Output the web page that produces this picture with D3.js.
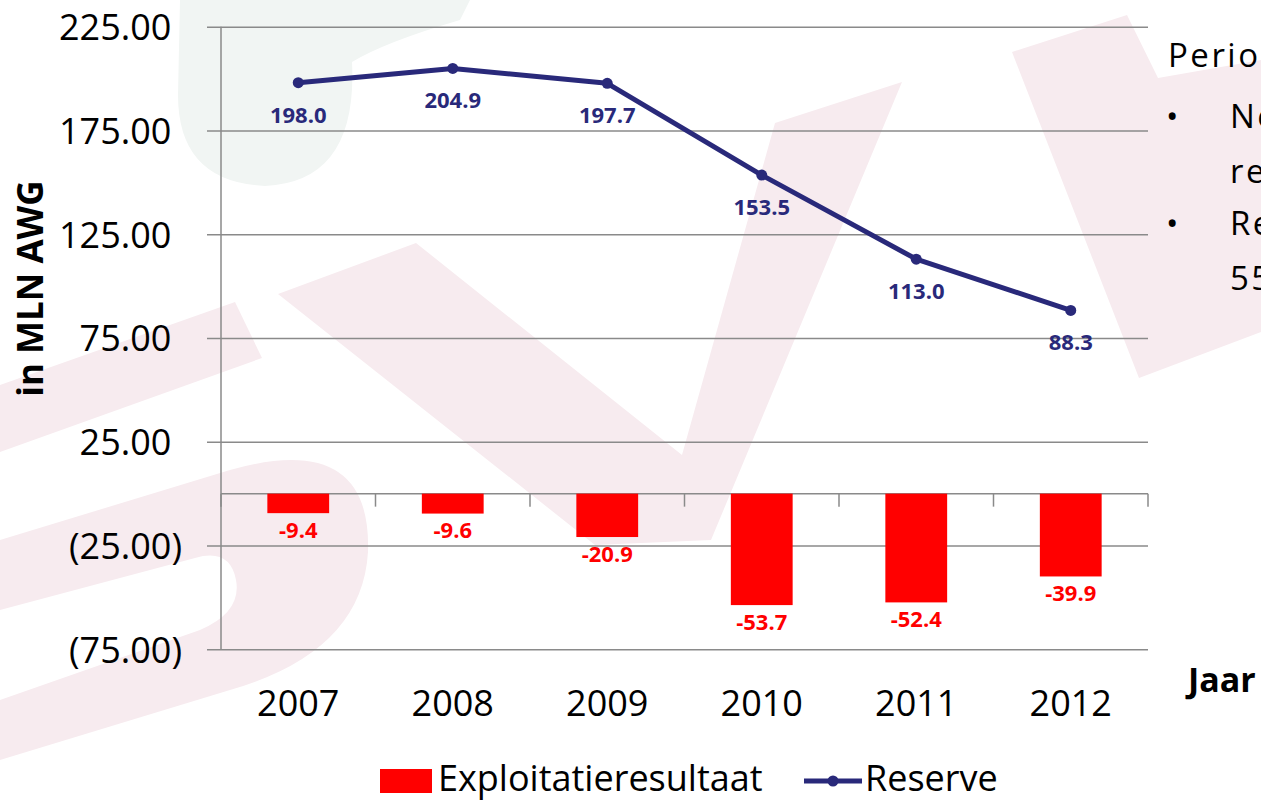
<!DOCTYPE html>
<html>
<head>
<meta charset="utf-8">
<script src="https://cdn.jsdelivr.net/npm/d3@7"></script>
<style>
   body { margin: 0; background: #fff; overflow: hidden; }
   svg { display: block; font-family: 'Open Sans', Lato, sans-serif; }
</style>
</head>
<body>
<script>
// Paramètres de la visualisation
const width = 1261;
const height = 802;
const margin = { top: 26.7, right: 113, bottom: 152.7, left: 221 };

const years = ['2007', '2008', '2009', '2010', '2011', '2012'];
const exploitatie = [-9.4, -9.6, -20.9, -53.7, -52.4, -39.9];
const reserve = [198.0, 204.9, 197.7, 153.5, 113.0, 88.3];
const yTicks = [225, 175, 125, 75, 25, -25, -75];
const seriesNames = ['Exploitatieresultaat', 'Reserve'];
const sideTitle = 'Periode 2007 - 2012:';
const sideBullets = [
   ['Negatief exploitatie-', 'resultaat'],
   ['Reserve gedaald met', '55%']
];

const red = '#ff0000';
const navy = '#29297a';
const gridColor = '#8a8a8a';

// format avec un tiret simple
const locale = d3.formatLocale({ decimal: '.', thousands: ',', grouping: [3], currency: ['', ''], minus: '-' });
const fmt1 = locale.format('.1f');
const fmt2 = locale.format('.2f');

let x, y;

const svg = d3.select('body')
   .append('svg')
   .attr('width', width)
   .attr('height', height);

function setup() {
   drawWatermark();

   x = d3.scaleBand()
      .domain(years)
      .range([margin.left, width - margin.right])
      .paddingInner(0.6)
      .paddingOuter(0.3);

   y = d3.scaleLinear()
      .domain([-75, 225])
      .range([height - margin.bottom, margin.top]);

   drawAxes();
   drawBars();
   drawLine();
   drawLegend();
   drawSideText();
}

// logo en filigrane
function drawWatermark() {
   const g = svg.append('g');
   g.append('path')
      .attr('d', 'M180,0 H470 L460,20 Q385,42 352,62 Q358,182 265,186 Q178,182 178,95 Z')
      .attr('fill', '#f1f5f3');
   const pink = [
      'M0,385 L235,302 L262,358 L0,452 Z',
      'M0,540 L230,470 Q372,430 368,552 Q362,652 230,690 L0,760 L0,700 L200,630 Q242,612 236,580 Q230,548 195,558 L0,610 Z',
      'M278,294 L416,243 L682,455 L775,123 L902,82 L711,540 L595,545 Z',
      'M1012,52 L1127,15 L1158,78 L1261,60 L1261,332 L1139,378 Z'
   ];
   g.selectAll('.wm')
      .data(pink)
      .join('path')
         .attr('d', d => d)
         .attr('fill', '#f7ebef');
}

function drawAxes() {
   const x0 = margin.left;
   const x1 = width - margin.right;

   // axe vertical + grille
   svg.append('g')
      .attr('transform', `translate(${x1},0)`)
      .call(d3.axisLeft(y)
         .tickValues(yTicks)
         .tickSize(x1 - 207)
         .tickPadding(25)
         .tickFormat(d => d < 0 ? `(${fmt2(-d)})` : fmt2(d)))
      .call(g => g.select('.domain').remove())
      .call(g => g.selectAll('.tick line').attr('stroke', gridColor).attr('stroke-width', 1.5))
      .call(g => g.selectAll('.tick text')
         .attr('font-size', 36)
         .attr('font-family', "'Open Sans', Lato, sans-serif")
         .attr('fill', '#000')
         .attr('dy', '0.36em'))
      .call(g => g.selectAll('.tick text').filter(d => d >= 0)
         .append('tspan').attr('fill-opacity', 0).text(')'));

   svg.append('line')
      .attr('x1', x0).attr('x2', x0)
      .attr('y1', y(225)).attr('y2', y(-75))
      .attr('stroke', gridColor).attr('stroke-width', 1.5);

   // axe horizontal (zéro)
   svg.append('line')
      .attr('x1', x0).attr('x2', x1)
      .attr('y1', y(0)).attr('y2', y(0))
      .attr('stroke', gridColor).attr('stroke-width', 1.5);

   const bounds = d3.range(years.length + 1).map(i => x0 + i * x.step());
   svg.append('g')
      .selectAll('line')
      .data(bounds)
      .join('line')
         .attr('x1', d => d).attr('x2', d => d)
         .attr('y1', y(0)).attr('y2', y(0) + 13)
         .attr('stroke', gridColor).attr('stroke-width', 1.5);

   // années
   svg.append('g')
      .attr('transform', `translate(0,${y(-75)})`)
      .call(d3.axisBottom(x).tickSize(0))
      .call(g => g.select('.domain').remove())
      .call(g => g.selectAll('.tick text')
         .attr('font-size', 36)
         .attr('font-family', "'Open Sans', Lato, sans-serif")
         .attr('fill', '#000')
         .attr('y', 54)
         .attr('dy', '0.36em'));

   // titre de l'axe
   svg.append('text')
      .attr('transform', `translate(43,${(180 + 397) / 2}) rotate(-90)`)
      .attr('text-anchor', 'middle')
      .attr('font-size', 35)
      .attr('font-weight', 'bold')
      .text('in MLN AWG');

   svg.append('text')
      .attr('x', 1188)
      .attr('y', 692)
      .attr('font-size', 34)
      .attr('font-weight', 'bold')
      .text('Jaar');
}

function drawBars() {
   const data = years.map((d, i) => ({ year: d, value: exploitatie[i] }));

   svg.append('g')
      .selectAll('rect')
      .data(data)
      .join('rect')
         .attr('x', d => x(d.year))
         .attr('y', y(0))
         .attr('width', x.bandwidth())
         .attr('height', d => y(d.value) - y(0))
         .attr('fill', red);

   svg.append('g')
      .attr('text-anchor', 'middle')
      .attr('font-size', 22)
      .attr('font-weight', 'bold')
      .attr('fill', red)
      .selectAll('text')
      .data(data)
      .join('text')
         .attr('x', d => x(d.year) + x.bandwidth() / 2)
         .attr('y', d => y(d.value) + 17)
         .attr('dy', '0.36em')
         .text(d => fmt1(d.value));
}

function drawLine() {
   const data = years.map((d, i) => ({ year: d, value: reserve[i] }));
   const cx = d => x(d.year) + x.bandwidth() / 2;

   svg.append('path')
      .datum(data)
      .attr('fill', 'none')
      .attr('stroke', navy)
      .attr('stroke-width', 5)
      .attr('stroke-linejoin', 'round')
      .attr('d', d3.line().x(cx).y(d => y(d.value)));

   svg.append('g')
      .selectAll('circle')
      .data(data)
      .join('circle')
         .attr('cx', cx)
         .attr('cy', d => y(d.value))
         .attr('r', 5.5)
         .attr('fill', navy);

   svg.append('g')
      .attr('text-anchor', 'middle')
      .attr('font-size', 22)
      .attr('font-weight', 'bold')
      .attr('fill', navy)
      .selectAll('text')
      .data(data)
      .join('text')
         .attr('x', cx)
         .attr('y', d => y(d.value) + 32)
         .attr('dy', '0.36em')
         .text(d => fmt1(d.value));
}

function drawLegend() {
   const g = svg.append('g').attr('font-size', 36);

   g.append('rect')
      .attr('x', 380).attr('y', 769)
      .attr('width', 52).attr('height', 24)
      .attr('fill', red);
   g.append('text')
      .attr('x', 438).attr('y', 791)
      .text(seriesNames[0]);

   g.append('line')
      .attr('x1', 804).attr('x2', 862)
      .attr('y1', 781).attr('y2', 781)
      .attr('stroke', navy).attr('stroke-width', 5);
   g.append('circle')
      .attr('cx', 833).attr('cy', 781).attr('r', 5.5)
      .attr('fill', navy);
   g.append('text')
      .attr('x', 865).attr('y', 791)
      .text(seriesNames[1]);
}

// texte de la diapositive (coupé à droite comme sur la diapo)
function drawSideText() {
   const g = svg.append('g')
      .attr('font-size', 33)
      .attr('letter-spacing', 2.5)
      .attr('fill', '#000');
   g.append('text').attr('x', 1168).attr('y', 67).text(sideTitle);

   const base = [128, 235];
   sideBullets.forEach((lines, i) => {
      g.append('text').attr('x', 1166).attr('y', base[i]).text('•');
      lines.forEach((t, j) => {
         g.append('text')
            .attr('x', 1230)
            .attr('y', base[i] + j * 55)
            .text(t);
      });
   });
}

setup();
</script>
</body>
</html>
